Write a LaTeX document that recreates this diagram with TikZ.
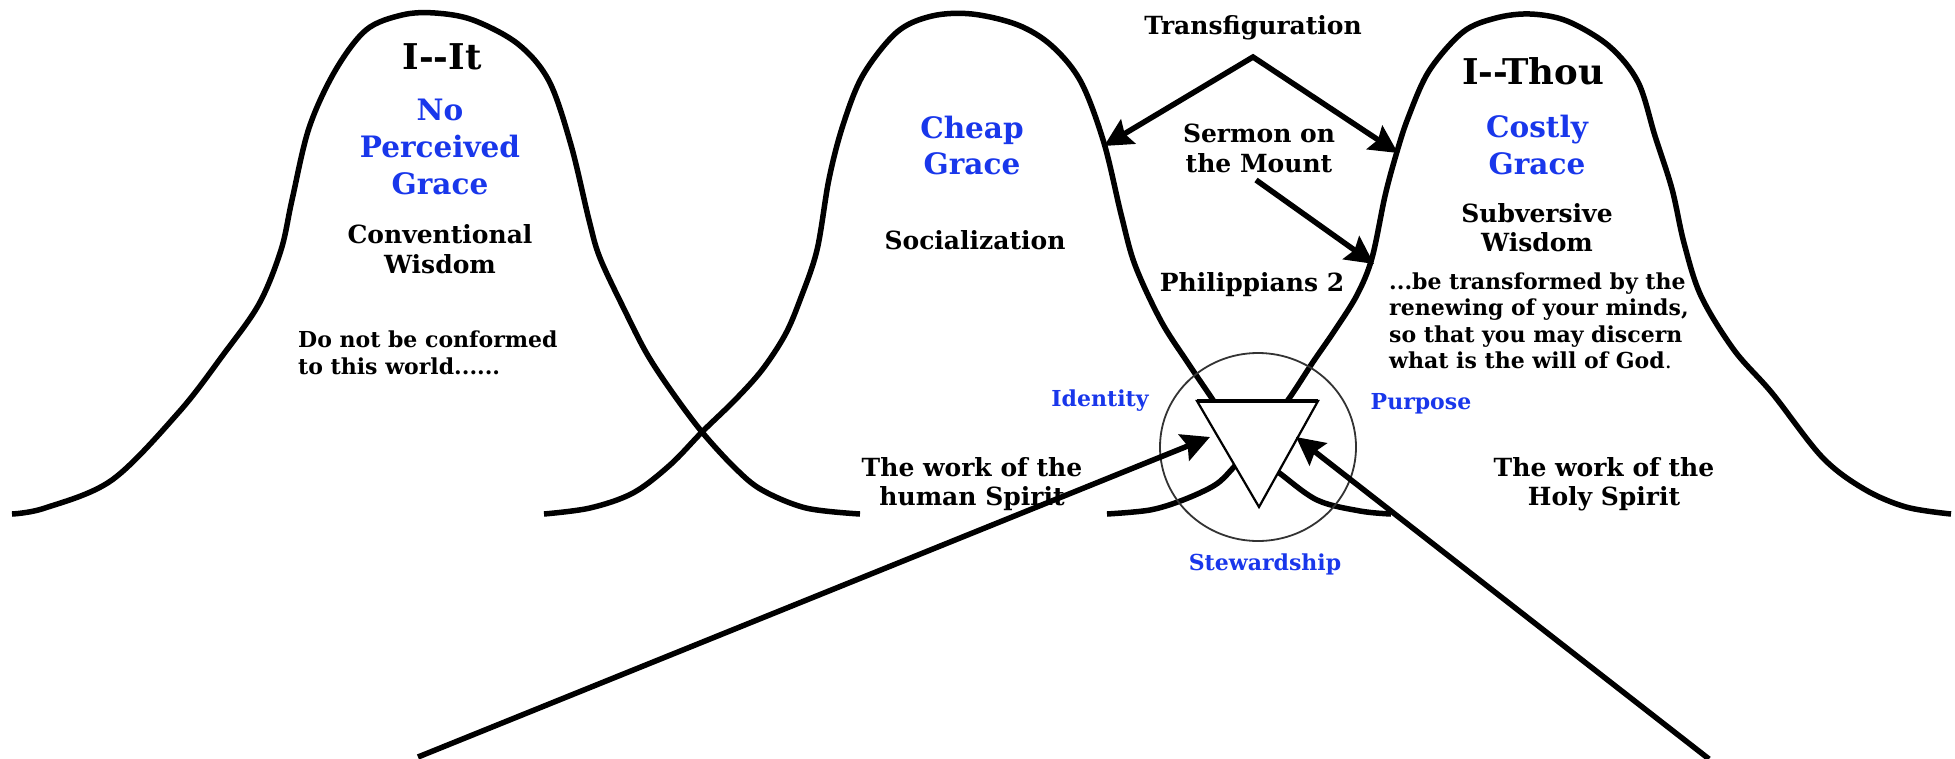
\documentclass[tikz,border=0pt]{standalone}
\usepackage{fontspec}
\setmainfont{DejaVu Serif}
\usetikzlibrary{arrows.meta,shapes.geometric}
\definecolor{gblue}{RGB}{25,55,235}
\begin{document}
\begin{tikzpicture}[x=1pt,y=-1pt,
  bell/.style={line width=5.5pt, line join=round},
  arr/.style={line width=5.5pt, -{Stealth[length=28pt,width=28pt,inset=4pt]}},
  txt/.style={inner sep=0pt, align=center, font=\bfseries\fontsize{25}{30}\selectfont},
  big/.style={inner sep=0pt, align=center, font=\bfseries\fontsize{35.5}{40}\selectfont},
  grace/.style={inner sep=0pt, align=center, text=gblue, font=\bfseries\fontsize{29.5}{37}\selectfont},
  small/.style={inner sep=0pt, align=left, font=\bfseries\fontsize{22}{26.5}\selectfont},
  bluesmall/.style={inner sep=0pt, text=gblue, font=\bfseries\fontsize{22}{24}\selectfont}
]
\useasboundingbox[fill=white] (0,0) rectangle (1955,758);

% bell curves
\draw[bell] plot[smooth, tension=0.55] coordinates {(12,514) (45,508) (112,480) (179,412) (223,355) (259,304) (281,250) (292,200) (309,128) (335,71) (366,30) (402,15) (435,13) (473,20) (518,44) (549,81) (571,145) (589,220) (600,258) (625,311) (647,354) (672,392) (702,432) (735,468) (762,490) (806,508) (860,514)};
\draw[bell] plot[smooth, tension=0.55] coordinates {(544,514) (590,508) (633,493) (670,465) (702,432) (735,400) (762,370) (785,335) (800,300) (817,250) (829,179) (843,125) (863,75) (897,32) (932,16) (972,14) (1018,25) (1052,46) (1081,82) (1104,143) (1121,214) (1135,265) (1161,321) (1188,363) (1213,400) (1245,448) (1278,472) (1317,500) (1360,511) (1391,514)};
\draw[bell] plot[smooth, tension=0.55] coordinates {(1107,514) (1150,510) (1183,500) (1215,485) (1233,468) (1260,436) (1288,400) (1313,362) (1335,330) (1357,295) (1372,258) (1385,196) (1396,155) (1408,118) (1429,71) (1463,32) (1496,18) (1530,14) (1567,21) (1609,46) (1638,82) (1655,136) (1672,189) (1684,243) (1701,296) (1734,350) (1772,393) (1822,457) (1864,489) (1906,507) (1951,514)};

% circle and triangle
\node[draw=black!80, line width=1.8pt, ellipse, minimum width=196pt, minimum height=188pt, inner sep=0pt] (circ) at (1258,447) {};
\coordinate (triA) at (1197,401);
\coordinate (triB) at (1318,401);
\coordinate (triC) at (1259,507);
\filldraw[fill=white, draw=black, line width=2.2pt, line join=miter] (triA) -- (triB) -- (triC) -- cycle;
\draw[line width=4pt] (triA) -- (triB);

% texts
\node[big] (itlab) at (442,57) {I-{}-It};
\node[grace] (nopg) at (440,147) {No\\Perceived\\Grace};
\node[txt] (conv) at (440,249) {Conventional\\Wisdom};
\node[small, anchor=west] (donot) at (298,353) {Do not be conformed\\to this world......};
\node[grace, font=\bfseries\fontsize{29.5}{36}\selectfont] (cheap) at (972,145) {Cheap\\Grace};
\node[txt] (social) at (975,240) {Socialization};
\node[txt] (transf) at (1253,28) {Transfiguration};
\node[txt] (sermon) at (1259,148) {Sermon on\\the Mount};
\node[txt] (phil) at (1252,285) {Philippians 2};
\node[big] (thou) at (1533,71) {I-{}-Thou};
\node[grace] (costly) at (1537,145) {Costly\\Grace};
\node[txt, font=\bfseries\fontsize{25}{29}\selectfont] (subv) at (1537,228) {Subversive\\Wisdom};
\node[small, anchor=west] (renew) at (1389,321) {...be transformed by the\\renewing of your minds,\\so that you may discern\\what is the will of God{\mdseries .}};
\node[bluesmall] (identity) at (1100,401) {Identity};
\node[bluesmall] (purpose) at (1421,404) {Purpose};
\node[bluesmall] (steward) at (1265,564) {Stewardship};
\node[txt, font=\bfseries\fontsize{25}{29}\selectfont] (humanw) at (972,484) {The work of the\\human Spirit};
\node[txt, font=\bfseries\fontsize{25}{29}\selectfont] (holyw) at (1604,484) {The work of the\\Holy Spirit};

% arrows
\coordinate (tfork) at (1253,57);
\coordinate (tipL) at (1104,146);
\coordinate (tipR) at (1398,153);
\coordinate (smS) at (1256,180);
\coordinate (smT) at (1374,264);
\coordinate (hsS) at (418,757);
\coordinate (hsT) at (1210,437);
\coordinate (hoS) at (1709,759);
\coordinate (hoT) at (1296,437);
\draw[arr, {Stealth[length=28pt,width=28pt,inset=4pt]}-{Stealth[length=28pt,width=28pt,inset=4pt]}, line join=miter] (tipL) -- (tfork) -- (tipR);
\draw[arr] (smS) -- (smT);
\draw[arr] (hsS) -- (hsT);
\draw[arr] (hoS) -- (hoT);
\end{tikzpicture}
\end{document}
